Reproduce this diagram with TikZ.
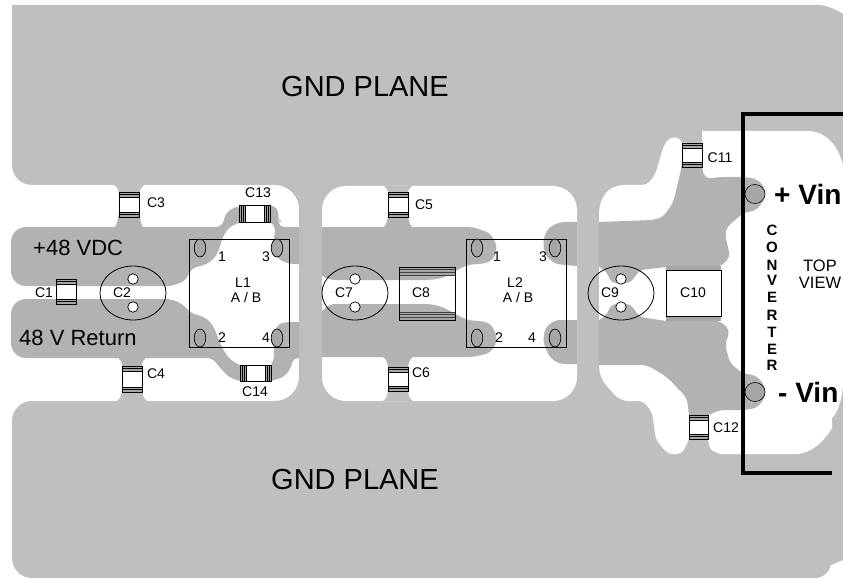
\documentclass[tikz,border=0pt]{standalone}
\usepackage{fontspec}
\setmainfont{Liberation Sans}
\definecolor{planecol}{HTML}{BFBFBF}
\definecolor{tracecol}{HTML}{B2B2B2}
\definecolor{padcol}{HTML}{A6A6A6}
\tikzset{
  planefill/.style={fill=planecol},
  tracefill/.style={fill=tracecol,rounded corners=5pt},
  whitefill/.style={fill=white,rounded corners=6pt},
  pinpad/.style={draw=black,line width=.7pt,fill=padcol},
  hole/.style={draw=black,line width=.7pt,fill=white},
  capbody/.style={draw=black,line width=.8pt},
  lab/.style={inner sep=0pt,font=\fontsize{14}{15}\selectfont},
  labbig/.style={inner sep=0pt,font=\fontsize{22}{23}\selectfont},
  gnd/.style={inner sep=0pt,font=\fontsize{29}{30}\selectfont},
  vin/.style={inner sep=0pt,anchor=west,font=\bfseries\fontsize{28}{29}\selectfont},
  conv/.style={inner sep=0pt,font=\bfseries\fontsize{15}{15}\selectfont},
  view/.style={inner sep=0pt,font=\fontsize{16.5}{17}\selectfont},
}
% vertical-pad capacitor: x1 y1 x2 y2
\newcommand{\capV}[4]{%
  \fill[white] (#1,#2) rectangle (#3,#4);
  \fill[padcol] (#1,#2) rectangle (#3,#2+5);
  \fill[padcol] (#1,#4-5) rectangle (#3,#4);
  \foreach \d in {0,2.5,5}{\draw[black,line width=.5pt] (#1,#2+\d) -- (#3,#2+\d);
    \draw[black,line width=.5pt] (#1,#4-\d) -- (#3,#4-\d);}
  \draw[capbody] (#1,#2) rectangle (#3,#4);}
% horizontal-pad capacitor: x1 y1 x2 y2
\newcommand{\capH}[4]{%
  \fill[white] (#1,#2) rectangle (#3,#4);
  \fill[padcol] (#1,#2) rectangle (#1+6,#4);
  \fill[padcol] (#3-6,#2) rectangle (#3,#4);
  \foreach \d in {0,2,4,6}{\draw[black,line width=.5pt] (#1+\d,#2) -- (#1+\d,#4);
    \draw[black,line width=.5pt] (#3-\d,#2) -- (#3-\d,#4);}
  \draw[capbody] (#1,#2) rectangle (#3,#4);}
\begin{document}
\begin{tikzpicture}[x=1pt,y=-1pt]
\useasboundingbox (0,0) rectangle (843,580);
\clip (0,0) rectangle (843,580);
% ground plane
\fill[planefill,rounded corners=20pt] (12,5) -- (800,5) [sharp corners] .. controls (822,5) and (835,8) .. (843,14)
  -- (843,560) -- (831,565) [rounded corners=16pt] -- (831,578) [rounded corners=20pt] -- (12,578) -- (12,401)
  [rounded corners=24pt] -- (299,401) -- (299,185) [rounded corners=20pt] -- (12,185) [sharp corners] -- (12,25) -- cycle;
% white cut-outs
\fill[white,rounded corners=24pt] (322,186) -- (577,186) -- (577,401) -- (322,401) -- cycle;
\fill[whitefill] [sharp corners] (599,222) -- (599,212) .. controls (600,197) and (608,185) .. (625,185) [rounded corners=5pt] -- (647,185)
  -- (655,175) -- (664,145) -- (670,137) -- (681,138) [sharp corners] -- (682,143) -- (702,143) -- (702,131)
  -- (808,131) .. controls (825,131) and (838,145) .. (843,165) -- (843,385)
  .. controls (842,400) and (838,412) .. (832,418) -- (832,428)
  .. controls (825,440) and (812,454) .. (795,454) -- (720,454) [rounded corners=4pt] -- (710,450) [sharp corners] -- (708,439) -- (689,439)
  [rounded corners=5pt] -- (682,454) -- (668,454) -- (656,440) -- (652,412) -- (643,401) [rounded corners=8pt] -- (620,401) -- (600,378) [sharp corners] -- (599,365) -- cycle;
% copper traces left
\fill[tracefill] [rounded corners=15pt] (11,286) -- (11,227) [rounded corners=6pt] -- (222,227) -- (226,212) -- (240,205) [sharp corners] -- (240,222)
  [rounded corners=5pt] -- (228,228) -- (222,239) -- (219,250) -- (214,259) -- (205,265) -- (192,268) -- (189,274) -- (184,282) [rounded corners=3pt] -- (170,286) [rounded corners=15pt] -- cycle;
\fill[tracefill] (270,205) -- (278,208) -- (279,227) [sharp corners] -- (299,227) -- (299,264) [rounded corners=5pt] -- (290,264) -- (281,261) -- (275,255) -- (273,245) -- (275,232) -- (275,225) [sharp corners] -- (270,222) -- cycle;
\fill[tracefill] [rounded corners=15pt] (11,358) -- (11,299) [rounded corners=6pt] -- (172,299) -- (184,305) -- (190,313) -- (205,317) -- (213,325) -- (218,338) -- (222,348) -- (230,360) [sharp corners] -- (240,365) -- (240,381) [rounded corners=5pt] -- (230,378) -- (222,370) -- (212,358) [rounded corners=15pt] -- cycle;
\fill[tracefill] (271,365) -- (274,360) -- (274,335) -- (277,325) -- (285,322) [sharp corners] -- (299,322) -- (299,358) [rounded corners=5pt] -- (293,358) -- (291,368) -- (284,377) [sharp corners] -- (271,381) -- cycle;
% necks left
\fill[planefill] (114,185) .. controls (118,187) and (118,190) .. (119,195) -- (139,195) .. controls (140,190) and (141,187) .. (144,185) -- cycle;
\fill[tracecol] (119,212) .. controls (118,220) and (117,225) .. (114,228) -- (144,228) .. controls (141,225) and (140,220) .. (139,212) -- cycle;
\fill[tracecol] (117,357) .. controls (120,359) and (122,361) .. (122,366) -- (142,366) .. controls (142,361) and (144,359) .. (147,357) -- cycle;
\fill[planefill] (122,388) .. controls (122,395) and (120,399) .. (117,401) -- (147,401) .. controls (144,399) and (142,395) .. (142,388) -- cycle;
% traces centre
\fill[tracefill] (322,227) -- (473,227) -- (490,233) -- (497,245) -- (495,257) -- (488,263) -- (467,265) -- (455,271) -- (443,278) -- (430,280) -- (330,280) [sharp corners] -- (322,276) -- cycle;
\fill[tracefill] (322,311) -- (330,304) -- (430,304) -- (443,307) -- (457,315) -- (467,320) -- (488,322) -- (495,330) -- (497,342) -- (490,353) -- (473,357) [sharp corners] -- (322,357) -- cycle;
\fill[tracefill] (577,222) -- (560,222) -- (548,228) -- (543,240) -- (545,255) -- (555,264) [sharp corners] -- (577,266) -- cycle;
\fill[tracefill] (577,320) -- (555,320) -- (545,328) -- (543,342) -- (550,358) -- (560,364) [sharp corners] -- (577,364) -- cycle;
% necks centre
\fill[planefill] (384,186) .. controls (387,188) and (388,190) .. (388,195) -- (408,195) .. controls (408,190) and (409,188) .. (412,186) -- cycle;
\fill[tracecol] (388,212) .. controls (388,222) and (386,225) .. (383,228) -- (413,228) .. controls (410,225) and (408,222) .. (408,212) -- cycle;
\fill[tracecol] (383,357) .. controls (386,359) and (388,362) .. (388,370) -- (408,370) .. controls (408,362) and (410,359) .. (413,357) -- cycle;
\fill[planefill] (388,388) .. controls (388,396) and (386,399) .. (383,401) -- (413,401) .. controls (410,399) and (408,396) .. (408,388) -- cycle;
% traces right
\fill[tracefill] (599,222) -- (653,220) -- (663,217) -- (673,203) -- (677,187) -- (681,170) [sharp corners] -- (682,160) -- (702,160) [rounded corners=5pt] -- (702,170) -- (706,179) -- (720,177) -- (745,177) -- (757,179) -- (765,188) -- (765,198) -- (757,210) -- (743,213) -- (727,227) -- (725,235) -- (728,247) -- (730,257) -- (720,267) [sharp corners] -- (666,267)
  [rounded corners=4pt] -- (640,270) -- (630,283) -- (612,283) -- (605,270) [sharp corners] -- (599,267) -- cycle;
\fill[tracefill] (599,320) -- (605,317) [rounded corners=4pt] -- (612,304) -- (630,304) -- (640,317) [sharp corners] -- (666,321) [rounded corners=5pt] -- (720,321) -- (730,330) -- (725,345) -- (730,363) -- (742,373) -- (757,376) -- (765,386) -- (765,398) -- (757,408) -- (743,410) -- (720,410) [sharp corners] -- (708,415) -- (708,425) -- (689,425) -- (689,415) [rounded corners=6pt] -- (687,398) -- (667,377) -- (647,365) [sharp corners] -- (599,365) -- cycle;
% capacitors
\capV{56}{279}{76}{304}
\capV{119}{192}{139}{217}
\capV{122}{366}{142}{392}
\capV{388}{192}{408}{217}
\capV{388}{367}{408}{391}
\capV{682}{143}{702}{167}
\capV{689}{415}{708}{439}
\capH{239}{205}{270}{222}
\capH{240}{365}{271}{381}
% C8 (no fill)
\fill[padcol] (399,267) rectangle (455,275);
\fill[padcol] (399,312) rectangle (455,320);
\foreach \d in {267,269.7,272.4,275,312,314.7,317.4,320}{\draw[black!75,line width=.5pt] (399,\d) -- (455,\d);}
\draw[capbody] (399,267) rectangle (455,320);
% C10
\fill[white] (666,270) rectangle (721,316);
\fill[padcol] (666,266) rectangle (721,271);
\fill[padcol] (666,316) rectangle (721,321);
\draw[capbody] (666,270.5) rectangle (721,316);
% electrolytics
\draw[black,line width=.8pt] (133,293) ellipse [x radius=33,y radius=27];
\draw[black,line width=.8pt] (355,293) ellipse [x radius=33,y radius=27];
\draw[black,line width=.8pt] (621,293) ellipse [x radius=33,y radius=27];
\foreach \hx in {133,355,621}{
  \draw[hole] (\hx,279) circle [radius=5.2];
  \draw[hole] (\hx,307) circle [radius=5.2];}
% inductors
\draw[black,line width=.8pt] (189,239) rectangle (289,347);
\draw[black,line width=.8pt] (466,239) rectangle (566,347);
\foreach \px in {200,277,477,555}{
  \draw[pinpad] (\px,248) ellipse [x radius=5.8,y radius=9];
  \draw[pinpad] (\px,338) ellipse [x radius=5.8,y radius=9];}
% converter
\draw[pinpad,line width=.6pt] (755,194) ellipse [x radius=10,y radius=9.5];
\draw[pinpad,line width=.6pt] (755,392) ellipse [x radius=10,y radius=9.5];
\draw[black,line width=3.5pt] (843,114) -- (743,114) -- (743,473) -- (832,473);
\fill[black] (280,221) circle [radius=.6];
% labels
\node[gnd] (gndtop) at (365,87) {GND PLANE};
\node[gnd] (gndbot) at (355,480) {GND PLANE};
\node[labbig,anchor=west] (vdc) at (33,248) {+48 VDC};
\node[labbig,anchor=west] (ret) at (19,338) {48 V Return};
\node[lab] (lc1) at (44,293) {C1};
\node[lab] (lc2) at (122,293) {C2};
\node[lab] (lc3) at (156,203) {C3};
\node[lab] (lc4) at (156,374) {C4};
\node[lab] (lc5) at (424,205) {C5};
\node[lab] (lc6) at (421,373) {C6};
\node[lab] (lc7) at (344,293) {C7};
\node[lab] (lc8) at (421,293) {C8};
\node[lab] (lc9) at (610,293) {C9};
\node[lab] (lc10) at (693,293) {C10};
\node[lab] (lc11) at (720,158) {C11};
\node[lab] (lc12) at (726,428) {C12};
\node[lab] (lc13) at (258,193) {C13};
\node[lab] (lc14) at (255,392) {C14};
\node[lab] (la1) at (222,257) {1};
\node[lab] (la3) at (266,257) {3};
\node[lab] (la2) at (222,338) {2};
\node[lab] (la4) at (266,338) {4};
\node[lab] (lal) at (243,283) {L1};
\node[lab] (lab1) at (246,297) {A / B};
\node[lab] (lb1) at (497,257) {1};
\node[lab] (lb3) at (543,257) {3};
\node[lab] (lb2) at (499,338) {2};
\node[lab] (lb4) at (532,338) {4};
\node[lab] (lbl) at (515,283) {L2};
\node[lab] (lab2) at (518,297) {A / B};
\node[vin] (vinp) at (774,194) {+ Vin};
\node[vin] (vinm) at (778,392) {- Vin};
\foreach \ch/\cy [count=\ci] in {C/230,O/247,N/265,V/280,E/297,R/315,T/332,E/349,R/365}{
  \node[conv] (conv\ci) at (772,\cy) {\ch};}
\node[view] (top) at (820,266) {TOP};
\node[view] (viewt) at (820,283) {VIEW};
\end{tikzpicture}
\end{document}
